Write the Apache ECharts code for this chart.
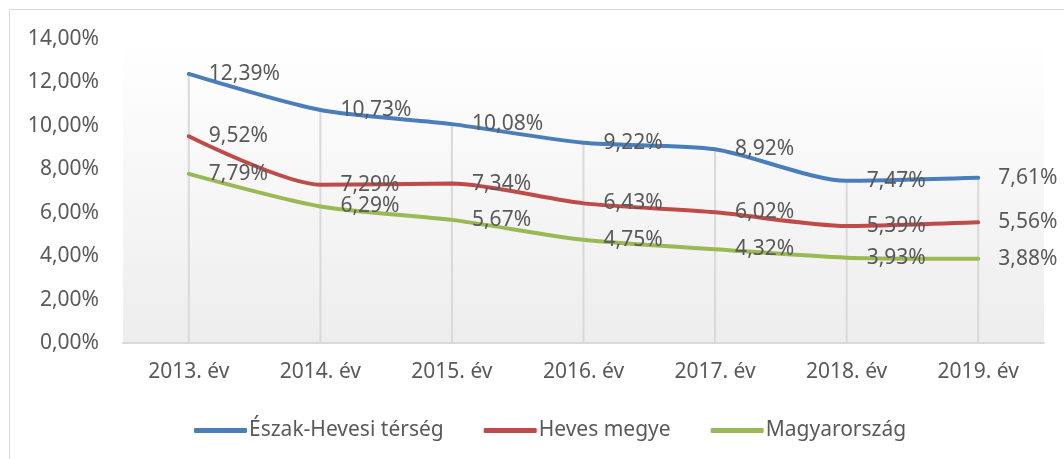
<!DOCTYPE html>
<html>
<head>
<meta charset="utf-8">
<script src="https://cdn.jsdelivr.net/npm/echarts@6/dist/echarts.min.js"></script>
<style>
html,body{margin:0;padding:0;background:#fff;}
#chart{width:1064px;height:459px;}
</style>
</head>
<body>
<div id="chart"></div>
<script>
const categories = ['2013. év','2014. év','2015. év','2016. év','2017. év','2018. év','2019. év'];
const eszakHevesi = [12.39, 10.73, 10.08, 9.22, 8.92, 7.47, 7.61];
const hevesMegye = [9.52, 7.29, 7.34, 6.43, 6.02, 5.39, 5.56];
const magyarorszag = [7.79, 6.29, 5.67, 4.75, 4.32, 3.93, 3.88];
const seriesNames = ['Észak-Hevesi térség','Heves megye','Magyarország'];
const yTicks = {min: 0, max: 14, interval: 2};

const FONT = 'Noto Sans';
const TXT = '#595959';
const fmt = v => v.toFixed(2).replace('.', ',') + '%';

function lineSeries(name, data, color) {
  return {
    name: name,
    type: 'line',
    data: data,
    smooth: 0.25,
    symbol: 'circle',
    symbolSize: 0.1,
    itemStyle: {color: color},
    lineStyle: {color: color, width: 4, cap: 'round'},
    label: {
      show: true,
      position: 'right',
      distance: 20,
      color: TXT,
      fontFamily: FONT,
      fontSize: 21,
      formatter: p => fmt(p.value)
    },
    z: 3
  };
}

const chart = echarts.init(document.getElementById('chart'), null, {renderer: 'canvas'});
chart.setOption({
  animation: false,
  backgroundColor: '#ffffff',
  graphic: [{
    type: 'rect',
    shape: {x: 9.5, y: 9.5, width: 1200, height: 600},
    style: {fill: 'none', stroke: '#d9d9d9', lineWidth: 1},
    silent: true
  }],
  grid: {
    left: 123, right: 20, top: 39, bottom: 116,
    show: true,
    borderWidth: 0,
    backgroundColor: {
      type: 'linear', x: 0, y: 0, x2: 0, y2: 1,
      colorStops: [{offset: 0, color: '#ffffff'}, {offset: 1, color: '#ededed'}]
    }
  },
  legend: {
    data: seriesNames,
    left: 189,
    top: 415,
    itemWidth: 53,
    itemHeight: 5,
    itemGap: 40,
    icon: 'roundRect',
    textStyle: {color: TXT, fontFamily: FONT, fontSize: 21, padding: [0, 0, 0, -3]}
  },
  xAxis: {
    type: 'category',
    data: categories,
    boundaryGap: true,
    axisLine: {show: true, lineStyle: {color: '#d9d9d9', width: 2}},
    axisTick: {show: false},
    splitLine: {show: false},
    axisLabel: {color: TXT, fontFamily: FONT, fontSize: 21, margin: 19}
  },
  yAxis: {
    type: 'value',
    min: yTicks.min, max: yTicks.max, interval: yTicks.interval,
    axisLine: {show: false},
    axisTick: {show: false},
    splitLine: {show: false},
    axisLabel: {color: TXT, fontFamily: FONT, fontSize: 21, margin: 24, formatter: v => fmt(v)}
  },
  series: [
    {
      name: 'drop',
      type: 'bar',
      data: eszakHevesi,
      barWidth: 2,
      itemStyle: {color: '#d9d9d9'},
      silent: true,
      z: 1
    },
    lineSeries(seriesNames[0], eszakHevesi, '#4A7EBB'),
    lineSeries(seriesNames[1], hevesMegye, '#BE4B48'),
    lineSeries(seriesNames[2], magyarorszag, '#98B954')
  ]
});
</script>
</body>
</html>
